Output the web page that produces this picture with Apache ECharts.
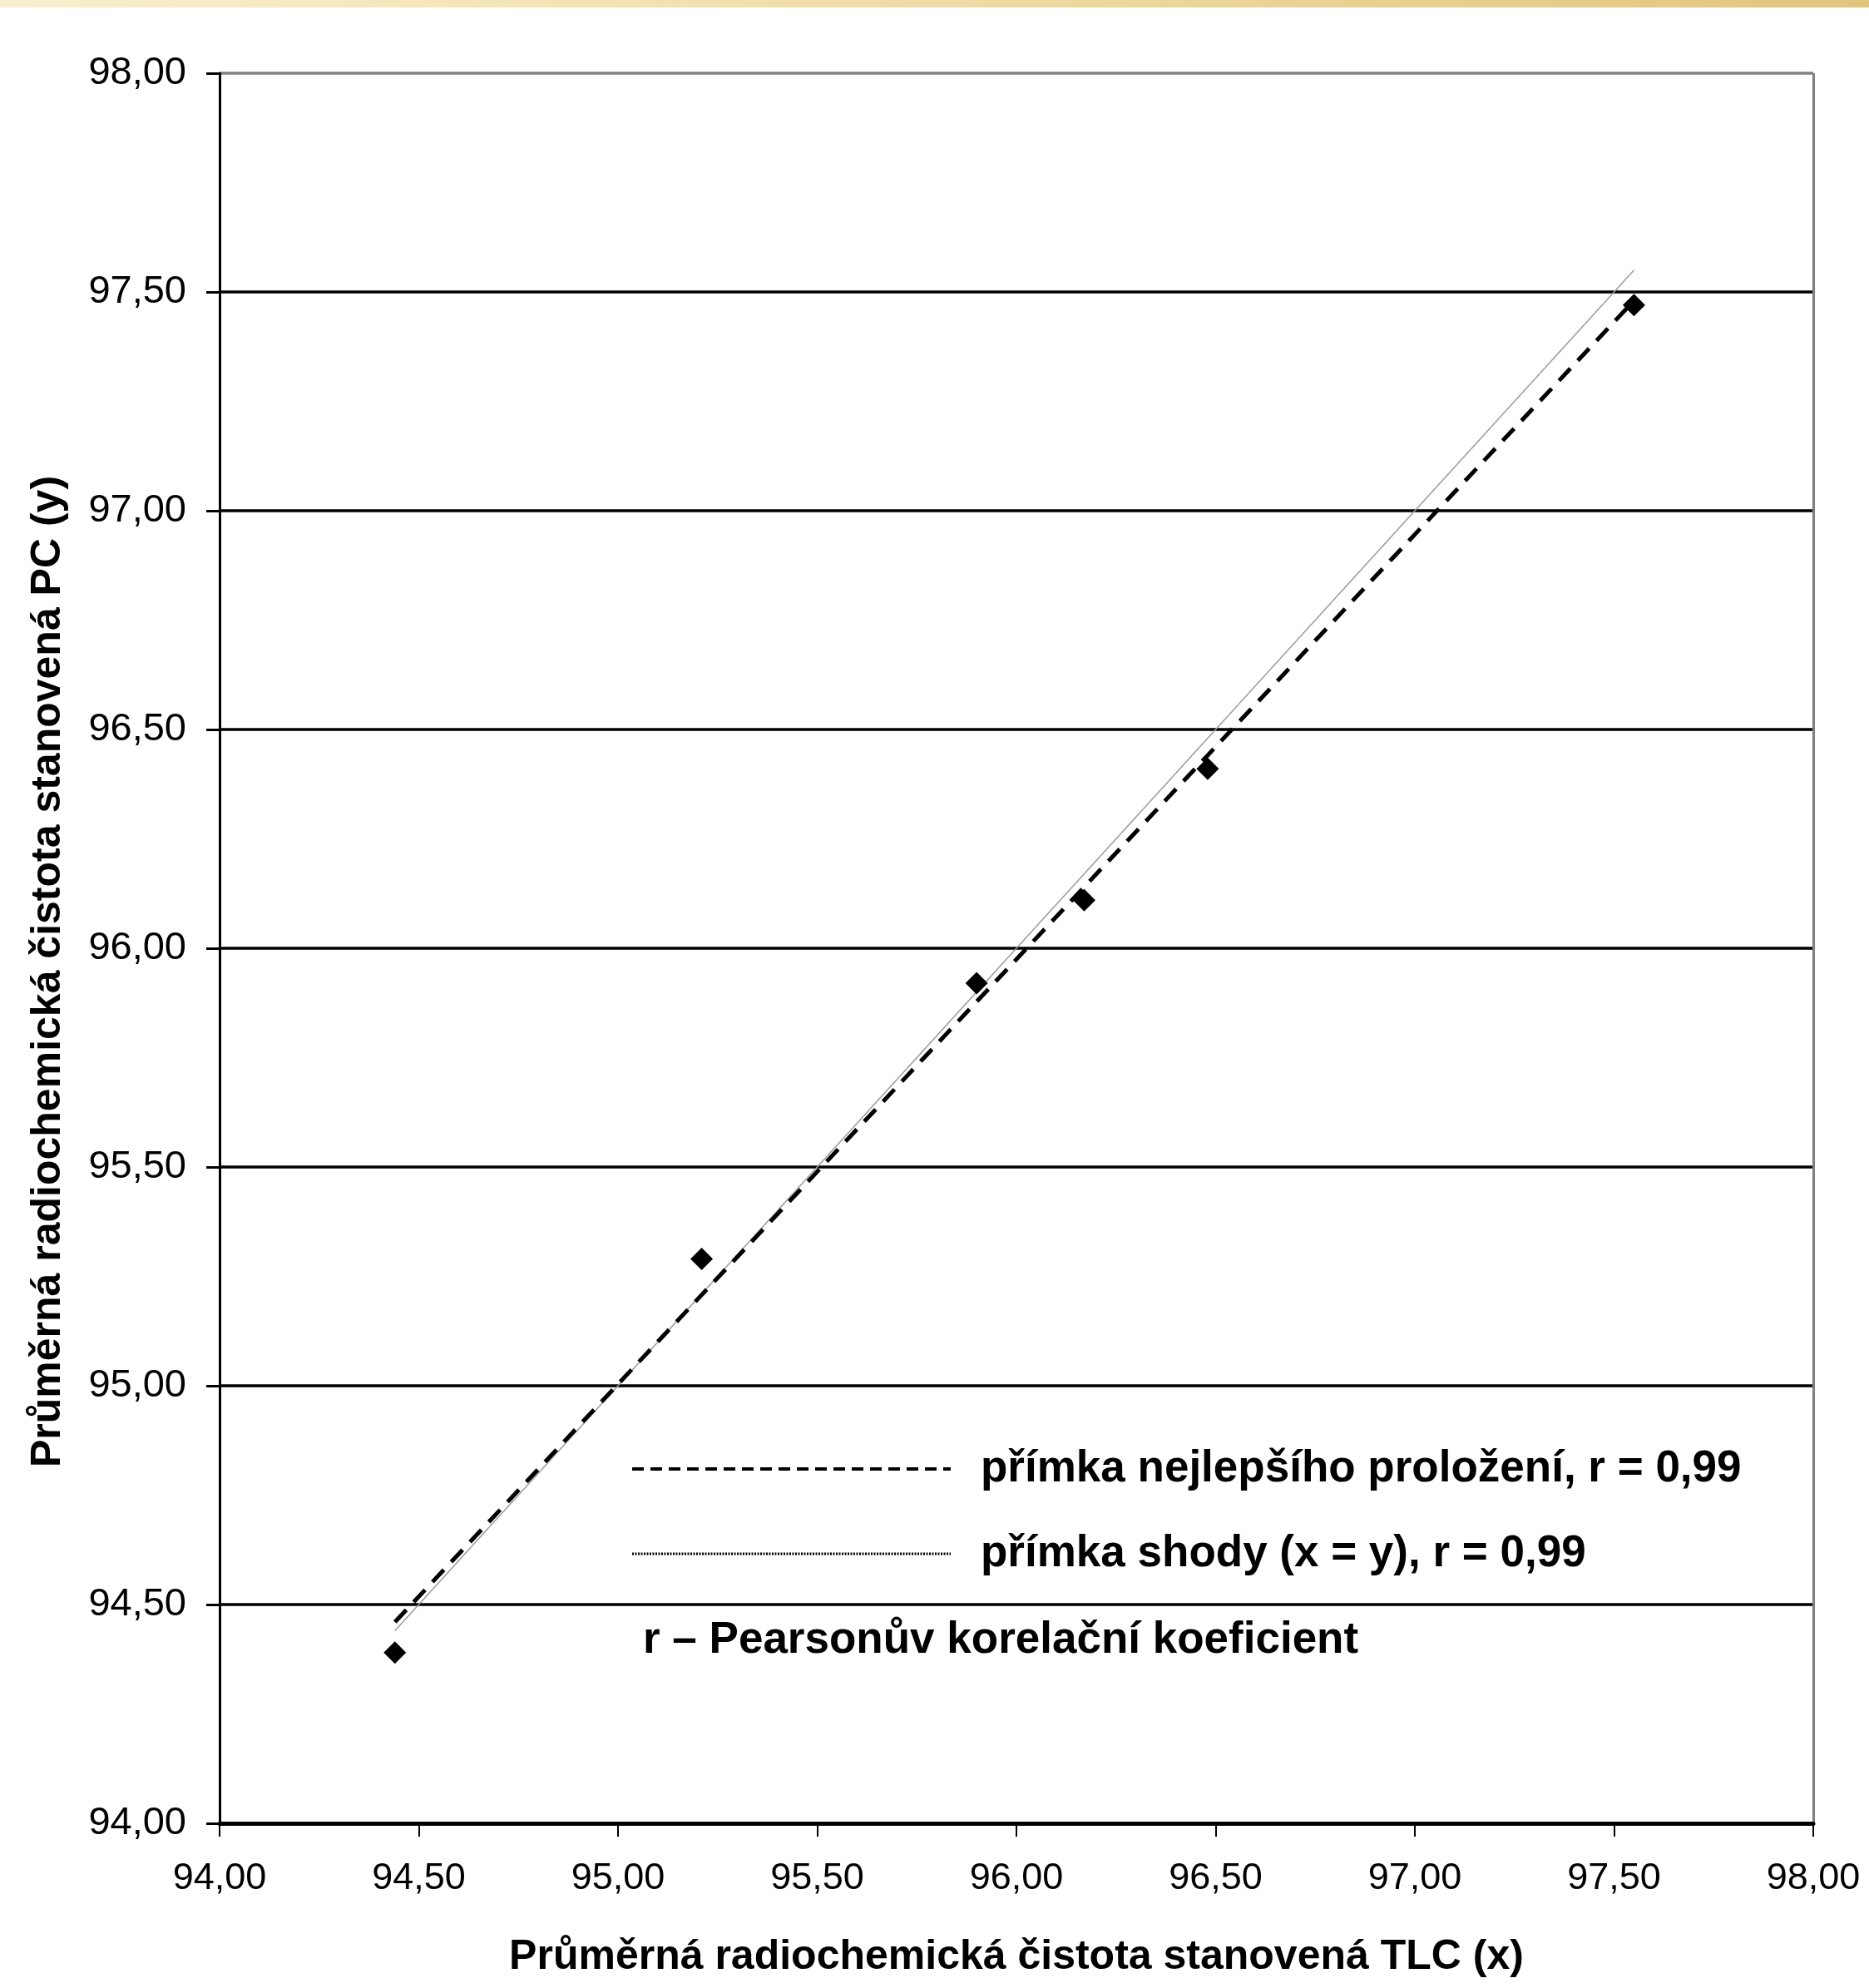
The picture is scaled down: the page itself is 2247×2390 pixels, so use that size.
<!DOCTYPE html>
<html>
<head>
<meta charset="utf-8">
<title>Průměrná radiochemická čistota</title>
<script src="https://cdn.jsdelivr.net/npm/echarts@6/dist/echarts.min.js"></script>
<style>
    html, body { margin: 0; padding: 0; background: #fff; }
    #chart { width: 2247px; height: 2390px; }
</style>
</head>
<body>
<div id="chart"></div>
<script>
// measured points: TLC (x) vs PC (y)
const tlcValues = [94.44, 95.21, 95.90, 96.17, 96.48, 97.55];
const pcValues = [94.39, 95.29, 95.92, 96.11, 96.41, 97.47];

// best-fit line ends
const fitX = [94.44, 97.55];
const fitY = [94.46, 97.48];

// identity line ends (x = y)
const idX = [94.44, 97.55];
const idY = [94.44, 97.55];

const legendNames = [
    'přímka nejlepšího proložení, r = 0,99',
    'přímka shody (x = y), r = 0,99'
];
const noteText = 'r – Pearsonův korelační koeficient';
const xTitle = 'Průměrná radiochemická čistota stanovená TLC (x)';
const yTitle = 'Průměrná radiochemická čistota stanovená PC (y)';

const FONT = '"Liberation Sans", Arial, sans-serif';
const fmt = (v) => v.toFixed(2).replace('.', ',');

const pairs = (xs, ys) => xs.map((x, i) => [x, ys[i]]);

const chart = echarts.init(document.getElementById('chart'));

// no symbol in the legend samples, only the line
const noDot = { color: 'transparent', borderWidth: 0, opacity: 0 };

const option = {
    backgroundColor: '#fff',
    animation: false,
    grid: { left: 264, top: 88, right: 67, bottom: 198 },
    xAxis: {
        type: 'value',
        min: 94,
        max: 98,
        interval: 0.5,
        name: xTitle,
        nameLocation: 'middle',
        nameGap: 136,
        nameTextStyle: { fontFamily: FONT, fontSize: 50, fontWeight: 'bold', color: '#000' },
        axisLine: { show: true, lineStyle: { color: '#000', width: 5 } },
        axisTick: { show: true, length: 16, lineStyle: { color: '#000', width: 2 } },
        axisLabel: { margin: 44, fontFamily: FONT, fontSize: 45, color: '#000', formatter: fmt },
        // only the right border of the plot shows
        splitLine: {
            show: true,
            lineStyle: {
                color: ['transparent', 'transparent', 'transparent', 'transparent',
                    'transparent', 'transparent', 'transparent', 'transparent', '#808080'],
                width: 3
            }
        }
    },
    yAxis: {
        type: 'value',
        min: 94,
        max: 98,
        interval: 0.5,
        axisLine: { show: true, lineStyle: { color: '#000', width: 3 } },
        axisTick: { show: true, length: 16, lineStyle: { color: '#000', width: 3 } },
        axisLabel: { margin: 40, fontFamily: FONT, fontSize: 47, color: '#000', formatter: fmt },
        splitLine: {
            show: true,
            lineStyle: {
                color: ['#000', '#000', '#000', '#000', '#000', '#000', '#000', '#000', '#808080'],
                width: 3.5
            }
        }
    },
    legend: {
        orient: 'vertical',
        left: 753,
        top: 1731,
        itemWidth: 383,
        itemHeight: 20,
        itemGap: 42,
        selectedMode: false,
        textStyle: {
            fontFamily: FONT,
            fontSize: 53,
            fontWeight: 'bold',
            color: '#000',
            lineHeight: 60,
            padding: [0, 0, 0, 31]
        },
        data: [
            { name: legendNames[0], itemStyle: noDot, lineStyle: { type: [14, 8], width: 4, color: '#000' } },
            { name: legendNames[1], itemStyle: noDot, lineStyle: { type: [2, 1.5], width: 3, color: '#000' } }
        ]
    },
    graphic: [
        {
            // gold strip along the top edge
            type: 'rect',
            left: 0,
            top: 0,
            shape: { width: 2247, height: 9 },
            style: {
                fill: new echarts.graphic.LinearGradient(0, 0, 1, 0, [
                    { offset: 0, color: '#f9efcf' },
                    { offset: 0.35, color: '#f3e2b0' },
                    { offset: 0.7, color: '#ead294' },
                    { offset: 1, color: '#e2c57d' }
                ])
            },
            silent: true
        },
        {
            type: 'text',
            left: 773,
            top: 1946,
            style: { text: noteText, font: 'bold 53px ' + FONT, fill: '#000' },
            silent: true
        },
        {
            type: 'text',
            x: 58,
            y: 1168,
            rotation: Math.PI / 2,
            style: {
                text: yTitle,
                font: 'bold 50px ' + FONT,
                fill: '#000',
                align: 'center',
                verticalAlign: 'middle'
            },
            silent: true
        }
    ],
    series: [
        {
            name: legendNames[1],
            type: 'line',
            data: pairs(idX, idY),
            symbol: 'none',
            lineStyle: { color: '#9a9a9a', width: 1.5 },
            z: 2
        },
        {
            name: legendNames[0],
            type: 'line',
            data: pairs(fitX, fitY),
            symbol: 'none',
            lineStyle: { color: '#000', width: 5, type: [20, 13] },
            z: 3
        },
        {
            name: 'data',
            type: 'scatter',
            data: pairs(tlcValues, pcValues),
            symbol: 'diamond',
            symbolSize: 27,
            itemStyle: { color: '#000', opacity: 1 },
            z: 4
        }
    ]
};

chart.setOption(option);
</script>
</body>
</html>
